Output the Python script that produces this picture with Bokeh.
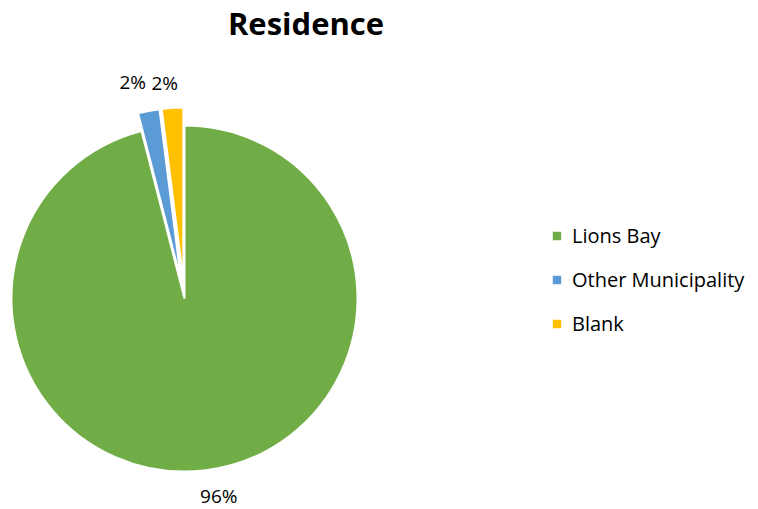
import numpy as np
from bokeh.plotting import figure
from bokeh.models import ColumnDataSource, Range1d, Legend, LegendItem
from bokeh.core.properties import value
from bokeh.embed import file_html
from bokeh.resources import INLINE

# ---- data ----
title_text = "Residence"
categories = ["Lions Bay", "Other Municipality", "Blank"]
percent = [96, 2, 2]
colors = ["#70AD47", "#5B9BD5", "#FFC000"]
labels = ["96%", "2%", "2%"]

# ---- styling / layout constants ----
W, H = 758, 509
FONT = "Open Sans"
center_x, center_y, radius = 184, 211, 173
explode = [0, 18, 18]
label_radius = 202
label_nudge_x = [9, -10.5, -6]
label_nudge_y = [3, 0, -4]

vals = np.array(percent, dtype=float)
frac = vals / vals.sum()
# slices drawn counter-clockwise from 12 o'clock in reverse order
rev_cum = np.cumsum(frac[::-1])[::-1]
end_ang = np.pi / 2 + 2 * np.pi * rev_cum
start_ang = end_ang - 2 * np.pi * frac
mid = (start_ang + end_ang) / 2
ex = np.array(explode, dtype=float)
cx = center_x + ex * np.cos(mid)
cy = center_y + ex * np.sin(mid)

src = ColumnDataSource(dict(x=cx, y=cy, start=start_ang, end=end_ang,
                            color=colors, cat=categories))

p = figure(width=W, height=H, output_backend="svg", toolbar_location=None,
           x_range=Range1d(0, W), y_range=Range1d(0, H), min_border=0,
           outline_line_color=None, background_fill_color="white")
p.axis.visible = False
p.grid.visible = False

r = p.wedge(x="x", y="y", radius=radius, start_angle="start", end_angle="end",
            fill_color="color", line_color="white", line_width=2, source=src)

lx = cx + label_radius * np.cos(mid) + np.array(label_nudge_x)
ly = cy + label_radius * np.sin(mid) + np.array(label_nudge_y)
p.text(x=lx, y=ly, text=labels, text_align="center", text_baseline="middle",
       text_font=value(FONT), text_font_size="19px", text_color="#000000")

p.text(x=[305.5], y=[H - 22], text=[title_text], text_align="center",
       text_baseline="middle", text_font=value(FONT), text_font_size="31px",
       text_font_style="bold", text_color="#000000")

items = [LegendItem(label=c, renderers=[r], index=i) for i, c in enumerate(categories)]
legend = Legend(items=items, location=(550, 172), border_line_color=None,
                background_fill_alpha=0, label_text_font=FONT,
                label_text_color="#000000",
                label_text_font_size="20px", glyph_width=13, glyph_height=13,
                label_height=20, spacing=17, label_standoff=9, padding=0, margin=0)
p.add_layout(legend, "center")

open("out.html", "w").write(file_html(p, INLINE))
